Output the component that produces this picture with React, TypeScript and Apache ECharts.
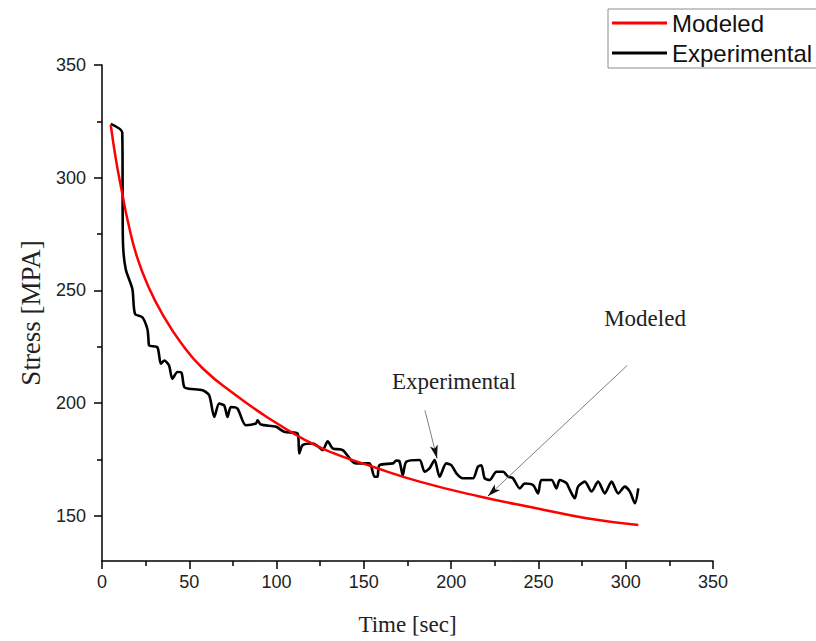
import React, { useEffect, useRef } from "react";
import * as echarts from "echarts";

const xTicks = [0, 50, 100, 150, 200, 250, 300, 350];
const yMajorTicks = [150, 200, 250, 300, 350];
const yMinorTicks = [175, 225, 275, 325];

const modeledTime = [5.0, 8.0, 11.6, 15.0, 20.0, 27.0, 35.0, 45.0, 57.6, 76.7, 95.8, 114.9, 130.3, 155.1, 181.9, 216.3, 248.8, 277.5, 307.2];
const modeledStress = [323.5, 308.0, 293.0, 280.0, 265.0, 251.0, 239.0, 227.0, 215.5, 203.5, 193.2, 184.3, 178.5, 171.8, 165.2, 158.6, 153.4, 149.0, 146.0];

const expTime = [5.0, 11.6, 12.0, 13.6, 17.4, 18.9, 23.1, 26.0, 26.6, 27.0, 31.7, 33.7, 35.6, 38.4, 40.3, 43.2, 45.5, 47.1, 49.9, 57.6, 61.4, 64.3, 67.1, 70.0, 71.9, 73.8, 77.6, 82.4, 88.2, 89.1, 91.0, 99.7, 104.4, 112.1, 113.0, 114.9, 120.7, 123.5, 126.4, 129.3, 132.1, 137.9, 142.7, 145.6, 153.2, 156.1, 157.8, 158.9, 166.6, 168.5, 170.4, 172.3, 174.3, 181.9, 184.8, 187.6, 190.5, 193.4, 197.2, 200.1, 203.0, 206.7, 212.5, 215.3, 217.3, 219.2, 222.1, 225.9, 229.7, 232.6, 235.4, 239.3, 242.2, 246.9, 249.8, 251.7, 257.5, 260.3, 262.2, 266.0, 268.0, 270.8, 272.7, 276.6, 280.4, 284.2, 288.0, 291.9, 295.7, 299.5, 302.4, 305.3, 307.2];
const expStress = [323.9, 320.1, 271.4, 259.4, 250.6, 239.6, 238.1, 232.9, 228.5, 225.6, 224.8, 217.5, 218.9, 216.7, 210.8, 213.8, 213.5, 207.2, 206.4, 205.7, 203.5, 193.9, 199.8, 199.0, 193.9, 198.3, 197.6, 190.2, 191.0, 192.4, 190.5, 189.5, 187.3, 186.5, 177.7, 181.4, 182.1, 181.0, 179.2, 183.1, 180.0, 179.2, 174.7, 173.3, 173.3, 167.4, 167.4, 172.5, 173.3, 174.5, 174.2, 168.1, 174.0, 174.8, 169.6, 171.1, 174.8, 167.4, 173.3, 172.5, 168.9, 166.7, 166.7, 171.8, 172.5, 166.7, 165.9, 169.6, 169.6, 167.4, 166.7, 162.2, 164.4, 163.7, 160.0, 165.9, 165.9, 162.2, 165.9, 164.6, 161.5, 157.8, 163.0, 165.2, 160.8, 165.2, 160.0, 165.2, 160.0, 163.0, 160.8, 155.6, 162.2];

// annotation arrows (data coordinates): [x0, y0, x1, y1]
const expArrow = [185.0, 196.8, 191.9, 175.6];
const modArrow = [300.8, 216.7, 221.1, 158.8];

const SANS = "Arial, 'Liberation Sans', sans-serif";
const SERIF = "'Times New Roman', 'Liberation Serif', serif";

function arrowItems(a: number[]) {
  const [x0, y0, x1, y1] = a;
  // approximate on-screen length to keep the black head segment short
  const pxLen = Math.hypot((x1 - x0) * 1.746, (y1 - y0) * 2.264);
  const f = 1 - 7 / pxLen;
  const xm = x0 + (x1 - x0) * f;
  const ym = y0 + (y1 - y0) * f;
  return [
    [
      { coord: [x0, y0], symbol: "none", lineStyle: { color: "#7f7f7f", width: 1, type: "solid" } },
      { coord: [xm, ym], symbol: "none" },
    ],
    [
      { coord: [xm, ym], symbol: "none", lineStyle: { color: "#111", width: 1, type: "solid" } },
      { coord: [x1, y1], symbol: "arrow", symbolSize: [6, 13] },
    ],
  ];
}

export default function App() {
  const ref = useRef<HTMLDivElement>(null);
  useEffect(() => {
    if (!ref.current) return;
    const chart = echarts.init(ref.current, undefined, { renderer: "svg" });
    const option: any = {
      animation: false,
      backgroundColor: "#fff",
      grid: { left: 102, right: 103, top: 65, bottom: 77, containLabel: false },
      legend: {
        orient: "vertical",
        left: 608,
        top: 9,
        padding: [2, 14, 3, 4],
        itemGap: 6,
        itemWidth: 55,
        itemHeight: 3,
        icon: "rect",
        borderColor: "#8c8c8c",
        borderWidth: 1,
        textStyle: { fontFamily: SANS, fontSize: 24, color: "#111" },
        data: ["Modeled", "Experimental"],
        selectedMode: false,
      },
      xAxis: {
        type: "value",
        min: xTicks[0],
        max: xTicks[xTicks.length - 1],
        interval: 50,
        name: "Time [sec]",
        nameLocation: "middle",
        nameGap: 52,
        nameTextStyle: { fontFamily: SERIF, fontSize: 23, color: "#222" },
        axisLine: { show: true, onZero: false, lineStyle: { color: "#000", width: 1.5 } },
        axisTick: { show: true, length: 8, lineStyle: { color: "#000", width: 1.5 } },
        minorTick: { show: true, splitNumber: 2, length: 5, lineStyle: { color: "#000", width: 1.5 } },
        axisLabel: { margin: 12, fontFamily: SANS, fontSize: 18, color: "#222" },
        splitLine: { show: false },
      },
      yAxis: [
        {
          type: "value",
          min: 130,
          max: 350,
          name: "Stress [MPA]",
          nameLocation: "middle",
          nameGap: 58,
          nameRotate: 90,
          nameTextStyle: { fontFamily: SERIF, fontSize: 27, color: "#222" },
          axisLine: { show: true, onZero: false, lineStyle: { color: "#000", width: 1.5 } },
          axisTick: { show: true, length: 8, customValues: yMajorTicks, lineStyle: { color: "#000", width: 1.5 } },
          axisLabel: { margin: 16, customValues: yMajorTicks, fontFamily: SANS, fontSize: 18, color: "#222" },
          splitLine: { show: false },
        },
        {
          type: "value",
          min: 130,
          max: 350,
          position: "left",
          axisLine: { show: false },
          axisTick: { show: true, length: 5, customValues: yMinorTicks, lineStyle: { color: "#000", width: 1.5 } },
          axisLabel: { show: false },
          splitLine: { show: false },
        },
      ],
      graphic: [
        {
          type: "text",
          x: 454,
          y: 381,
          style: { text: "Experimental", font: `23px ${SERIF}`, fill: "#222", textAlign: "center", textVerticalAlign: "middle" },
        },
        {
          type: "text",
          x: 645,
          y: 318,
          style: { text: "Modeled", font: `23px ${SERIF}`, fill: "#222", textAlign: "center", textVerticalAlign: "middle" },
        },
      ],
      series: [
        {
          name: "Experimental",
          type: "line",
          yAxisIndex: 0,
          data: expTime.map((t, i) => [t, expStress[i]]),
          showSymbol: false,
          smooth: 0.25,
          lineStyle: { color: "#000", width: 2.6 },
          itemStyle: { color: "#000" },
          z: 2,
          markLine: {
            silent: true,
            animation: false,
            label: { show: false },
            emphasis: { disabled: true },
            data: [...arrowItems(expArrow), ...arrowItems(modArrow)],
          },
        },
        {
          name: "Modeled",
          type: "line",
          yAxisIndex: 0,
          data: modeledTime.map((t, i) => [t, modeledStress[i]]),
          showSymbol: false,
          smooth: true,
          lineStyle: { color: "#ff0000", width: 2.5 },
          itemStyle: { color: "#ff0000" },
          z: 3,
        },
      ],
    };
    chart.setOption(option);
    return () => chart.dispose();
  }, []);
  return <div ref={ref} style={{ position: "absolute", left: 0, top: 0, width: 816, height: 641 }} />;
}
